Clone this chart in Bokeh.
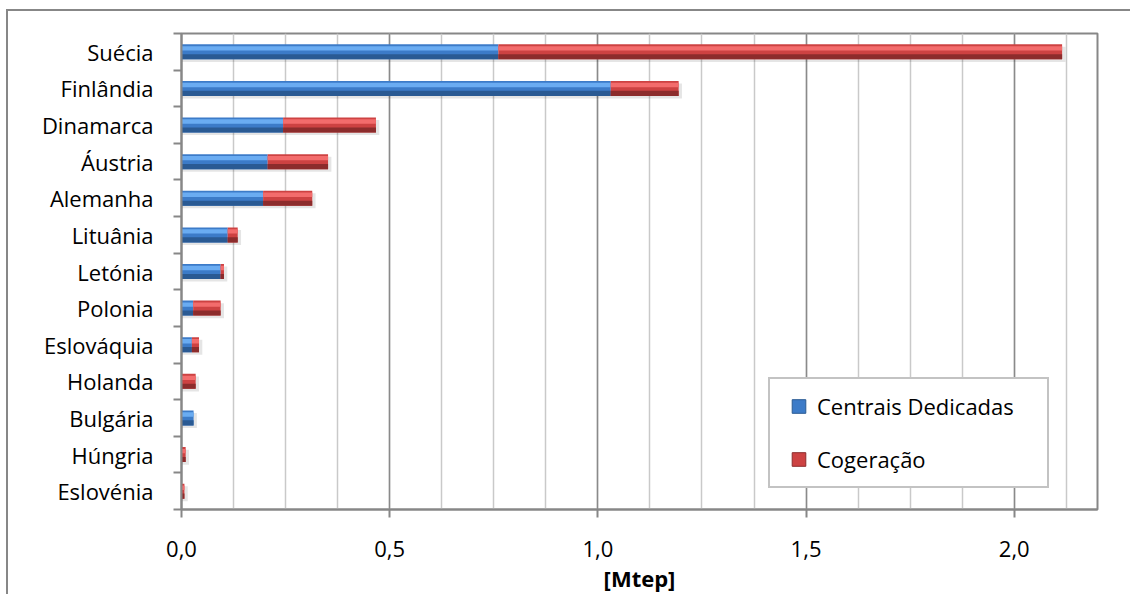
from bokeh.plotting import figure
from bokeh.models import (Range1d, FixedTicker, CustomJSTickFormatter, Legend, LegendItem,
                          ColumnDataSource, InlineStyleSheet)
from bokeh.transform import dodge
from bokeh.embed import file_html
from bokeh.resources import INLINE

# ---------------- data ----------------
categories = ["Suécia", "Finlândia", "Dinamarca", "Áustria", "Alemanha", "Lituânia",
              "Letónia", "Polonia", "Eslováquia", "Holanda", "Bulgária", "Húngria", "Eslovénia"]
centrais_dedicadas = [0.761, 1.031, 0.244, 0.207, 0.196, 0.111, 0.094, 0.028, 0.025, 0.000, 0.029, 0.000, 0.000]
cogeracao = [1.354, 0.163, 0.223, 0.145, 0.118, 0.024, 0.008, 0.066, 0.017, 0.034, 0.000, 0.010, 0.007]
series_names = ["Centrais Dedicadas", "Cogeração"]
x_major_ticks = [0.0, 0.5, 1.0, 1.5, 2.0]
x_minor_ticks = [0.0, 0.125, 0.25, 0.375, 0.5, 0.625, 0.75, 0.875, 1.0, 1.125, 1.25,
                 1.375, 1.5, 1.625, 1.75, 1.875, 2.0, 2.125]
x_axis_label = "[Mtep]"

# ---------------- derived table ----------------
n = len(categories)
ys = [n - 0.5 - i for i in range(n)]
totals = [a + b for a, b in zip(centrais_dedicadas, cogeracao)]
src = ColumnDataSource(dict(
    y=ys, zero=[0.0] * n, blue=centrais_dedicadas, total=totals,
    shadow=[t + 0.008 if t > 0 else 0.0 for t in totals],
))

FONT = "Open Sans"
GRAY = "#878787"
blue_mid, blue_light, blue_dark = "#3C7BC8", "#6AACF2", "#2A5A93"
red_mid, red_light, red_dark = "#CD4242", "#F36C6C", "#8C2C2C"

p = figure(frame_width=916, frame_height=476,
           x_range=Range1d(0, 2.2), y_range=Range1d(0, n),
           output_backend="svg", toolbar_location=None,
           min_border_left=181, min_border_top=33, min_border_right=33, min_border_bottom=85,
           background_fill_color="white", border_fill_color="white")
p.outline_line_color = GRAY
p.outline_line_width = 2

# grid
p.ygrid.visible = False
p.xgrid.grid_line_color = "#8A8A8A"
p.xgrid.grid_line_width = 1.5
p.xgrid.minor_grid_line_color = "#C9C9C9"
p.xgrid.minor_grid_line_width = 1.5

# x axis
xt = FixedTicker(ticks=x_major_ticks, minor_ticks=x_minor_ticks)
p.xaxis.ticker = xt
p.xgrid.ticker = xt
p.xaxis.formatter = CustomJSTickFormatter(code="return tick.toFixed(1).replace('.', ',');")
p.xaxis.axis_line_color = GRAY
p.xaxis.axis_line_width = 2
p.xaxis.major_tick_line_color = GRAY
p.xaxis.major_tick_line_width = 2
p.xaxis.major_tick_out = 8
p.xaxis.major_tick_in = 0
p.xaxis.minor_tick_out = 0
p.xaxis.minor_tick_in = 0
p.xaxis.major_label_text_font = FONT
p.xaxis.major_label_text_font_size = "22px"
p.xaxis.major_label_text_color = "black"
p.xaxis.major_label_standoff = 23
p.xaxis.axis_label = x_axis_label
p.xaxis.axis_label_text_font = FONT
p.xaxis.axis_label_text_font_size = "22px"
p.xaxis.axis_label_text_font_style = "bold"
p.xaxis.axis_label_text_color = "black"
p.xaxis.axis_label_standoff = 3

# y axis
yt = FixedTicker(ticks=ys, minor_ticks=list(range(n + 1)))
p.yaxis.ticker = yt
p.yaxis.formatter = CustomJSTickFormatter(args=dict(names=categories),
                                          code="return names[Math.round(names.length - 0.5 - tick)];")
p.yaxis.axis_line_color = GRAY
p.yaxis.axis_line_width = 2
p.yaxis.major_tick_out = 0
p.yaxis.major_tick_in = 0
p.yaxis.minor_tick_out = 8
p.yaxis.minor_tick_in = 0
p.yaxis.minor_tick_line_color = GRAY
p.yaxis.minor_tick_line_width = 2
p.yaxis.major_label_text_font = FONT
p.yaxis.major_label_text_font_size = "22px"
p.yaxis.major_label_text_color = "black"
p.yaxis.major_label_standoff = 20

# bars
H = 0.41
p.hbar(y=dodge("y", -0.07), left="zero", right="shadow", height=H, source=src,
       fill_color="black", fill_alpha=0.10, line_color=None)
for left, right, mid, light, dark in [("zero", "blue", blue_mid, blue_light, blue_dark),
                                      ("blue", "total", red_mid, red_light, red_dark)]:
    p.hbar(y="y", left=left, right=right, height=H, source=src,
           fill_color=mid, line_color=None)
    p.hbar(y=dodge("y", 0.095), left=left, right=right, height=0.12, source=src,
           fill_color=light, line_color=None)
    p.hbar(y=dodge("y", -0.135), left=left, right=right, height=0.14, source=src,
           fill_color=dark, line_color=None)

# legend proxies (outside visible range)
r1 = p.scatter(x=[-5], y=[-5], marker="square", size=13, fill_color=blue_mid, line_color=blue_dark)
r2 = p.scatter(x=[-5], y=[-5], marker="square", size=13, fill_color=red_mid, line_color=red_dark)
legend = Legend(items=[LegendItem(label=series_names[0], renderers=[r1]),
                       LegendItem(label=series_names[1], renderers=[r2])],
                location=(587, 21), margin=0, padding=10, spacing=19,
                glyph_width=37, glyph_height=34, label_height=32, label_width=220,
                label_standoff=0,
                label_text_font=FONT, label_text_font_size="22px", label_text_color="black",
                border_line_color=GRAY, border_line_width=2,
                background_fill_color="white", background_fill_alpha=1.0)
p.add_layout(legend, "center")

# outer chart-area frame (only its top and left edges fall inside the page)
p.stylesheets = [InlineStyleSheet(css="""
:host { position: relative; }
:host::after {
  content: "";
  position: absolute;
  left: 6px; top: 9px;
  width: 1124px; height: 585px;
  box-sizing: border-box;
  border-left: 2px solid #878787;
  border-top: 2px solid #878787;
  pointer-events: none;
  z-index: 10;
}
""")]

open("out.html", "w").write(file_html(p, INLINE))
